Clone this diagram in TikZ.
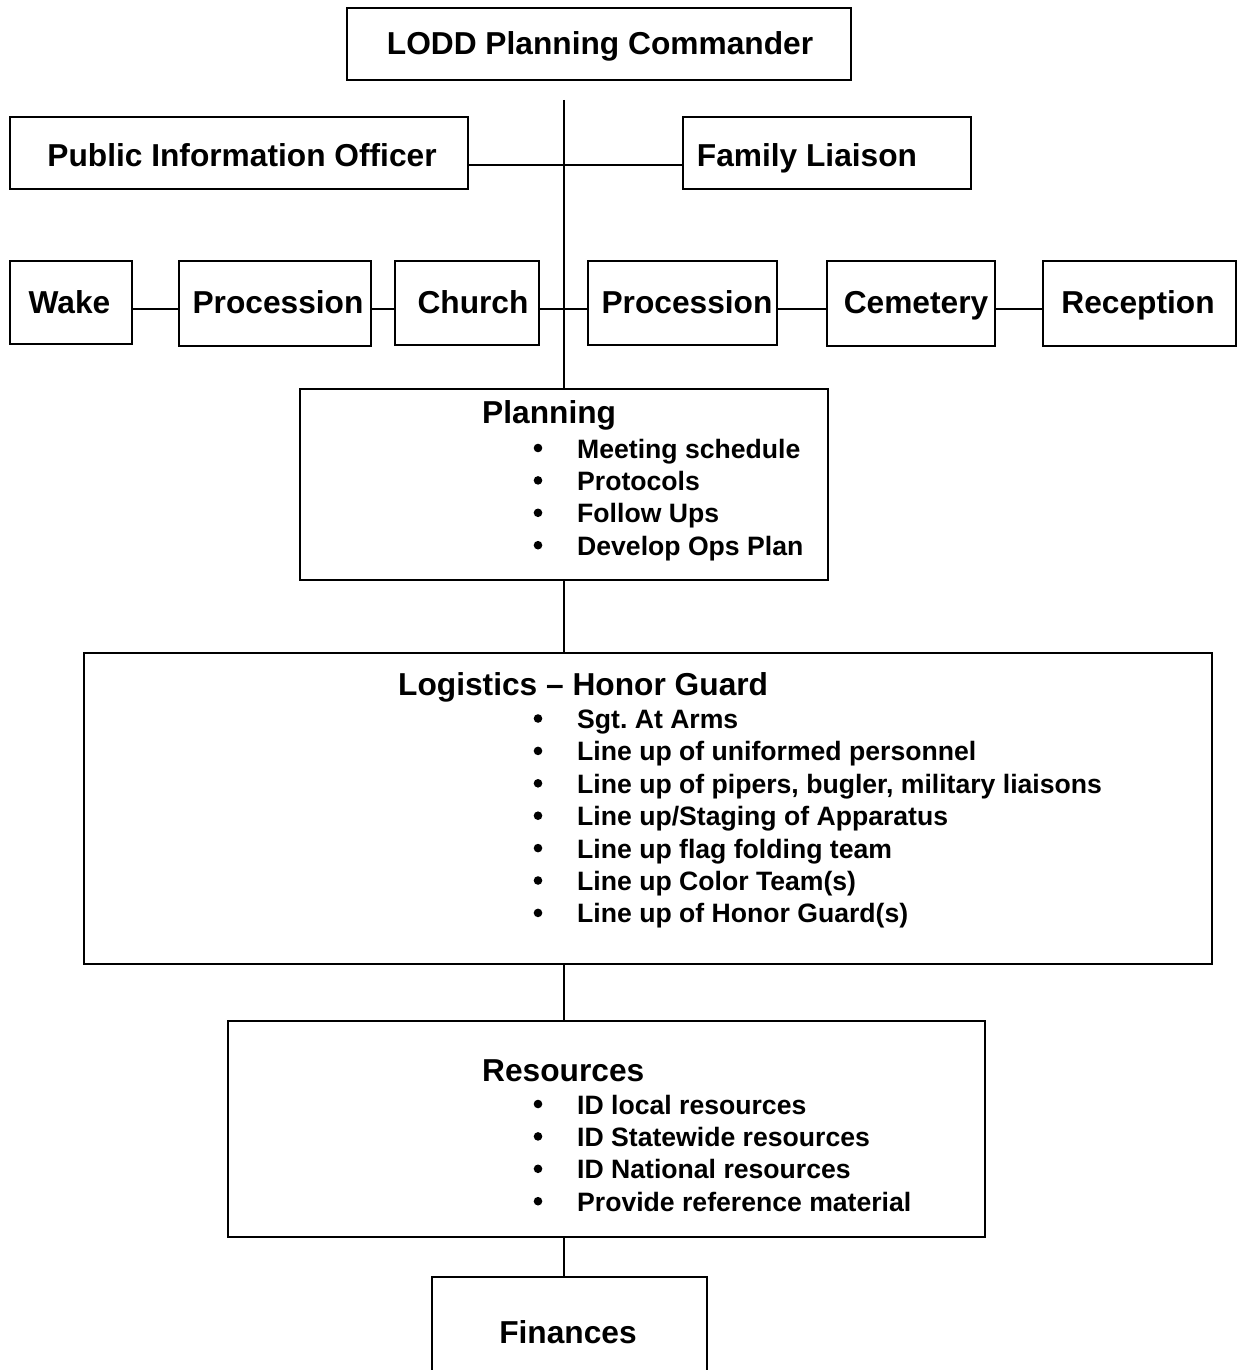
\documentclass[tikz,border=0pt]{standalone}
\usepackage{fontspec}
\setmainfont{Liberation Sans}
\begin{document}
\frenchspacing
\begin{tikzpicture}[x=1pt,y=-1pt,
  box/.style={draw, line width=1.8pt, inner sep=0pt, rectangle},
  hd/.style={font=\fontsize{31.7}{38}\selectfont\bfseries, inner sep=0pt, anchor=base},
  hdw/.style={font=\fontsize{31.7}{38}\selectfont\bfseries, inner sep=0pt, anchor=base west},
  itm/.style={font=\fontsize{26.6}{32}\selectfont\bfseries\frenchspacing, inner sep=0pt, anchor=base west},
  conn/.style={line width=1.8pt}]
\useasboundingbox (0,0) rectangle (1238,1370);
\clip (0,0) rectangle (1238,1370);

% boxes
\node[box, minimum width=504pt, minimum height=72pt] (cmd) at (599,44) {};
\node[box, minimum width=458pt, minimum height=72pt] (pio) at (239,153) {};
\node[box, minimum width=288pt, minimum height=72pt] (fl) at (827,153) {};
\node[box, minimum width=122pt, minimum height=83pt] (wake) at (71,302.5) {};
\node[box, minimum width=192pt, minimum height=85pt] (proc1) at (275,303.5) {};
\node[box, minimum width=144pt, minimum height=84pt] (church) at (467,303) {};
\node[box, minimum width=189pt, minimum height=84pt] (proc2) at (682.5,303) {};
\node[box, minimum width=168pt, minimum height=85pt] (cem) at (911,303.5) {};
\node[box, minimum width=193pt, minimum height=85pt] (rec) at (1139.5,303.5) {};
\node[box, minimum width=528pt, minimum height=191pt] (plan) at (564,484.5) {};
\node[box, minimum width=1128pt, minimum height=311pt] (log) at (648,808.5) {};
\node[box, minimum width=757pt, minimum height=216pt] (res) at (606.5,1129) {};
\node[box, minimum width=275pt, minimum height=123pt] (fin) at (569.5,1338.5) {};

% titles
\node[hd] (cmdT) at (600,55) {LODD Planning Commander};
\node[hd] (pioT) at (242,166) {Public Information Officer};
\node[hd] (flT) at (807,166) {Family Liaison};
\node[hd] (wakeT) at (69.5,313) {Wake};
\node[hd] (proc1T) at (278,313) {Procession};
\node[hd] (churchT) at (473,313) {Church};
\node[hd] (proc2T) at (687,313) {Procession};
\node[hd] (cemT) at (916,313) {Cemetery};
\node[hd] (recT) at (1138,313) {Reception};
\node[hdw] (planT) at (482,423) {Planning};
\node[hdw] (logT) at (398,695) {Logistics – Honor Guard};
\node[hdw] (resT) at (482,1081) {Resources};
\node[hd] (finT) at (568,1343) {Finances};

% bullet lists
\foreach \t [count=\i] in {Meeting schedule, Protocols, Follow Ups, Develop Ops Plan} {
  \pgfmathsetmacro\yy{458+(\i-1)*32.4}
  \fill (538,\yy-10) circle (4.3);
  \node[itm] (pl\i) at (577,\yy) {\t};
}
\foreach \t [count=\i] in {Sgt.\ At Arms, Line up of uniformed personnel, {Line up of pipers, bugler, military liaisons}, Line up/Staging of Apparatus, Line up flag folding team, Line up Color Team(s), Line up of Honor Guard(s)} {
  \pgfmathsetmacro\yy{728.5+(\i-1)*32.4}
  \fill (538,\yy-10) circle (4.3);
  \node[itm] (lg\i) at (577,\yy) {\t};
}
\foreach \t [count=\i] in {ID local resources, ID Statewide resources, ID National resources, Provide reference material} {
  \pgfmathsetmacro\yy{1114+(\i-1)*32.4}
  \fill (538,\yy-10) circle (4.3);
  \node[itm] (rs\i) at (577,\yy) {\t};
}

% connectors
\coordinate (top) at (564,100);
\coordinate (piy) at (0,165);
\coordinate (rowy) at (0,309.3);
\draw[conn] (top) -- (plan.north);
\draw[conn] (pio.east |- piy) -- (fl.west |- piy);
\draw[conn] (wake.east |- rowy) -- (proc1.west |- rowy);
\draw[conn] (proc1.east |- rowy) -- (church.west |- rowy);
\draw[conn] (church.east |- rowy) -- (proc2.west |- rowy);
\draw[conn] (proc2.east |- rowy) -- (cem.west |- rowy);
\draw[conn] (cem.east |- rowy) -- (rec.west |- rowy);
\draw[conn] (plan.south) -- (plan.south |- log.north);
\draw[conn] (log.south -| top) -- (res.north -| top);
\draw[conn] (res.south -| top) -- (fin.north -| top);
\end{tikzpicture}
\end{document}
